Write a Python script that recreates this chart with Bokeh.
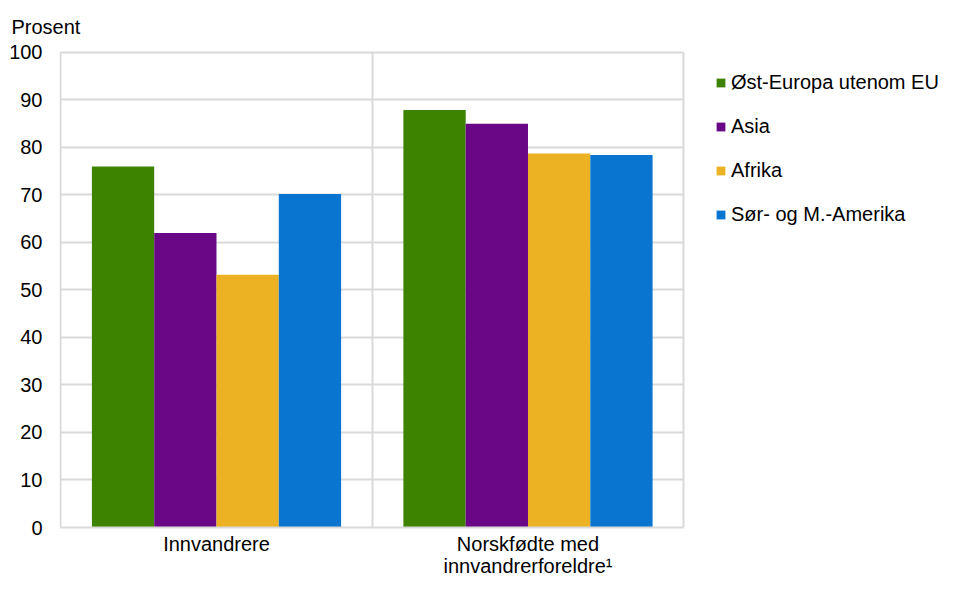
from bokeh.plotting import figure
from bokeh.models import (ColumnDataSource, FixedTicker, Legend, LegendItem,
                          Range1d, Title)
from bokeh.transform import dodge
from bokeh.embed import file_html
from bokeh.resources import INLINE

categories = ["Innvandrere", "Norskfødte med\ninnvandrerforeldre¹"]
series = ["Øst-Europa utenom EU", "Asia", "Afrika", "Sør- og M.-Amerika"]
ost_europa = [76.0, 87.9]
asia = [62.0, 85.0]
afrika = [53.2, 78.7]
sor_amerika = [70.2, 78.4]
colors = ["#3E8300", "#6A0787", "#ECB223", "#0975D1"]
y_ticks = list(range(0, 101, 10))

FONT = "Liberation Sans"
GRID = "#d9d9d9"

n_cat = len(categories)
cat_x = [i + 0.5 for i in range(n_cat)]          # centre of each category slot
cat_edges = [float(i) for i in range(n_cat + 1)]  # slot boundaries

src = ColumnDataSource(dict(x=cat_x, s0=ost_europa, s1=asia,
                            s2=afrika, s3=sor_amerika))

# the frame extends to the right edge so the legend can sit inside it;
# the category slots occupy [0, n_cat] of the x range
p = figure(width=942, height=579,
           x_range=Range1d(-0.004, 2.8307), y_range=Range1d(0, 100.4),
           output_backend="svg", toolbar_location=None,
           min_border_left=59, min_border_right=0, min_border_top=50,
           min_border_bottom=0)
p.title.visible = False
p.outline_line_color = None

renderers = []
offsets = [-0.3, -0.1, 0.1, 0.3]
for i, (name, col) in enumerate(zip(series, colors)):
    r = p.vbar(x=dodge("x", offsets[i]), top=f"s{i}",
               width=0.2, source=src, fill_color=col, line_color=None)
    renderers.append(r)

# grid
p.xgrid.ticker = FixedTicker(ticks=cat_edges)
p.xgrid.grid_line_color = GRID
p.xgrid.grid_line_width = 2
p.ygrid.ticker = FixedTicker(ticks=y_ticks)
p.ygrid.grid_line_color = GRID
p.ygrid.grid_line_width = 2
try:
    p.xgrid.cross_bounds = (0, 100)
    p.ygrid.cross_bounds = (0, n_cat)
except Exception:
    pass

# axes
p.yaxis.ticker = FixedTicker(ticks=y_ticks)
p.yaxis.axis_line_color = None
p.yaxis.major_tick_line_color = None
p.yaxis.major_tick_out = 0
p.yaxis.minor_tick_line_color = None
p.yaxis.major_label_standoff = 17
p.yaxis.major_label_text_font = FONT
p.yaxis.major_label_text_font_size = "20px"
p.yaxis.major_label_text_color = "#000000"

p.xaxis.ticker = FixedTicker(ticks=cat_x)
p.xaxis.major_label_overrides = {x: c for x, c in zip(cat_x, categories)}
p.xaxis.bounds = (0, n_cat)
p.xaxis.axis_line_color = GRID
p.xaxis.axis_line_width = 2
p.xaxis.major_tick_line_color = None
p.xaxis.major_tick_out = 0
p.xaxis.minor_tick_line_color = None
p.xaxis.major_label_standoff = 5
p.xaxis.major_label_text_font = FONT
p.xaxis.major_label_text_font_size = "20px"
p.xaxis.major_label_text_color = "#000000"
p.xaxis.major_label_text_line_height = 1.0

title = Title(text="Prosent", text_font=FONT, text_font_size="20px",
              text_font_style="normal", text_color="#000000",
              align="left", offset=-48, standoff=25)
p.add_layout(title, "above")

legend = Legend(items=[LegendItem(label=s, renderers=[r])
                       for s, r in zip(series, renderers)],
                location=(656, 301))
legend.label_text_font = FONT
legend.label_text_font_size = "20px"
legend.label_text_color = "#000000"
legend.glyph_width = 11
legend.glyph_height = 11
legend.label_standoff = 5
legend.label_height = 23
legend.spacing = 21
legend.padding = 0
legend.margin = 0
legend.border_line_color = None
legend.background_fill_alpha = 0
p.add_layout(legend, "center")

open("out.html", "w").write(file_html(p, INLINE))
